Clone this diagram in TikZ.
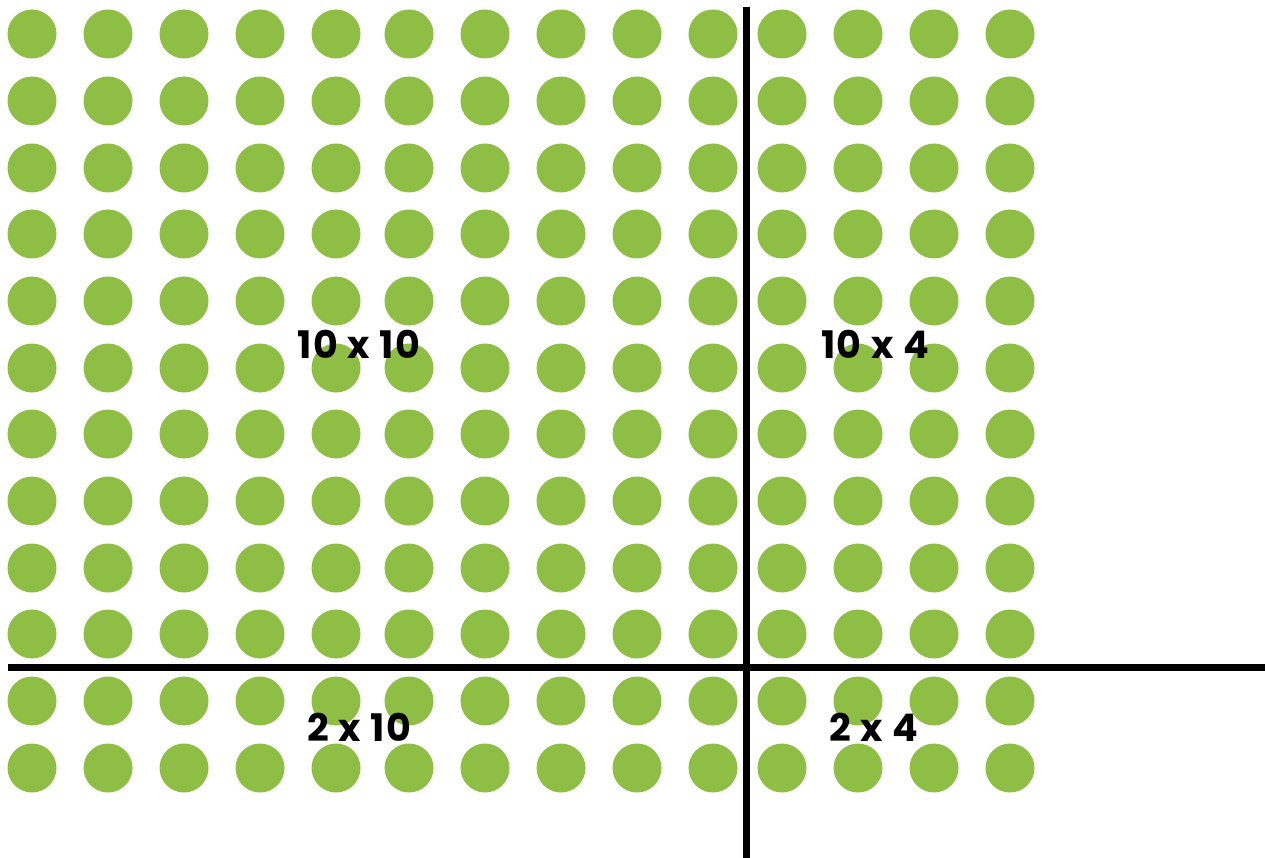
\documentclass[tikz,border=0pt]{standalone}
\usepackage{fontspec}
\setmainfont{Poppins}
\newfontfamily\labfont[LetterSpace=4]{Poppins}
\definecolor{dotgreen}{HTML}{8FBE45}
\begin{document}
\begin{tikzpicture}[x=1pt,y=-1pt,
  dot/.style={circle,fill=dotgreen,minimum size=49pt,inner sep=0pt},
  axis/.style={line width=7pt,black},
  lab/.style={font=\labfont\fontsize{38}{44}\selectfont\bfseries,text=black,inner sep=0pt}]
\useasboundingbox (0,0) rectangle (1265,858);
\foreach \x [count=\i] in {32,108,184,260,336,409,485,561,637,713,782,858,934,1010}{
  \foreach \y [count=\j] in {34,101,168,234,301,368,434,501,568,634,701,768}{
    \node[dot] (d-\i-\j) at (\x,\y) {};
  }
}
\coordinate (vt) at (746,7);
\coordinate (vb) at (746,858);
\coordinate (hl) at (8,667);
\coordinate (hr) at (1265,667);
\draw[axis] (vt) -- (vb);
\draw[axis] (hl) -- (hr);
\node[lab] (l1) at (359,344) {10 x 10};
\node[lab] (l2) at (875,344) {10 x 4};
\node[lab] (l3) at (359,727) {2 x 10};
\node[lab] (l4) at (874,727) {2 x 4};
\end{tikzpicture}
\end{document}
